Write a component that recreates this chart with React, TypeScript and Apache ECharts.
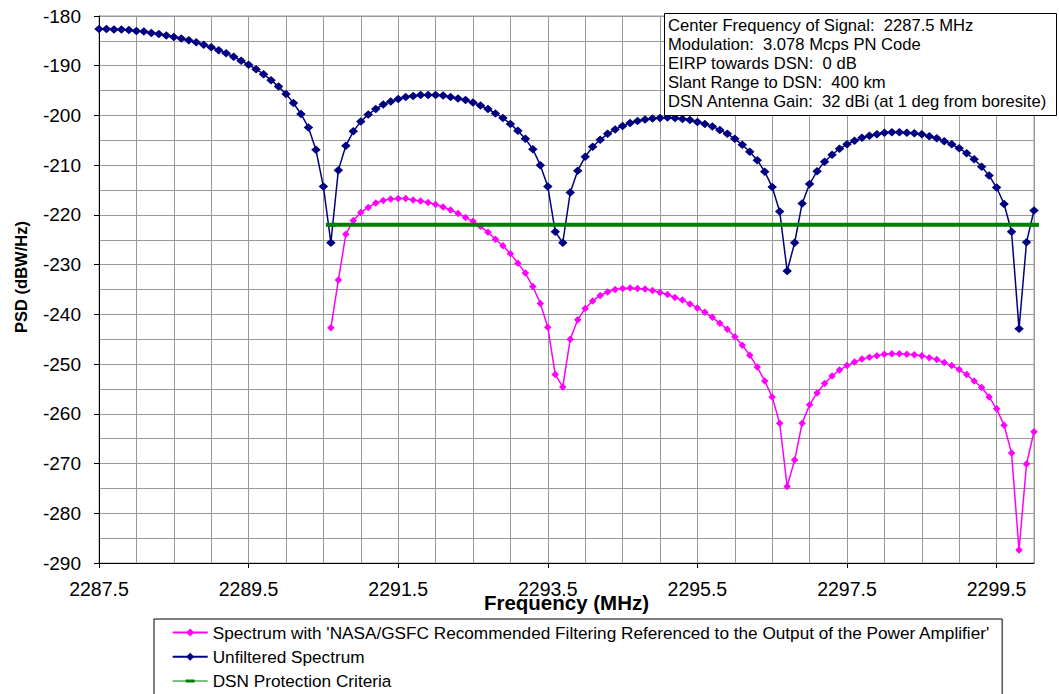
import React, { useEffect, useRef } from "react";
import * as echarts from "echarts";

// Frequency grid (MHz)
const frequencies = [
  2287.5, 2287.6, 2287.7, 2287.8, 2287.9,
  2288.0, 2288.1, 2288.2, 2288.3, 2288.4, 2288.5, 2288.6, 2288.7, 2288.8, 2288.9,
  2289.0, 2289.1, 2289.2, 2289.3, 2289.4, 2289.5, 2289.6, 2289.7, 2289.8, 2289.9,
  2290.0, 2290.1, 2290.2, 2290.3, 2290.4, 2290.5, 2290.6, 2290.7, 2290.8, 2290.9,
  2291.0, 2291.1, 2291.2, 2291.3, 2291.4, 2291.5, 2291.6, 2291.7, 2291.8, 2291.9,
  2292.0, 2292.1, 2292.2, 2292.3, 2292.4, 2292.5, 2292.6, 2292.7, 2292.8, 2292.9,
  2293.0, 2293.1, 2293.2, 2293.3, 2293.4, 2293.5, 2293.6, 2293.7, 2293.8, 2293.9,
  2294.0, 2294.1, 2294.2, 2294.3, 2294.4, 2294.5, 2294.6, 2294.7, 2294.8, 2294.9,
  2295.0, 2295.1, 2295.2, 2295.3, 2295.4, 2295.5, 2295.6, 2295.7, 2295.8, 2295.9,
  2296.0, 2296.1, 2296.2, 2296.3, 2296.4, 2296.5, 2296.6, 2296.7, 2296.8, 2296.9,
  2297.0, 2297.1, 2297.2, 2297.3, 2297.4, 2297.5, 2297.6, 2297.7, 2297.8, 2297.9,
  2298.0, 2298.1, 2298.2, 2298.3, 2298.4, 2298.5, 2298.6, 2298.7, 2298.8, 2298.9,
  2299.0, 2299.1, 2299.2, 2299.3, 2299.4, 2299.5, 2299.6, 2299.7, 2299.8, 2299.9,
  2300.0,
];

// Unfiltered spectrum PSD (dBW/Hz), one value per frequency above
const unfilteredPSD = [
  -182.6, -182.6, -182.7, -182.7, -182.8, -183.0, -183.1, -183.4, -183.6, -183.9,
  -184.2, -184.5, -184.9, -185.3, -185.8, -186.3, -186.9, -187.5, -188.2, -189.0,
  -189.8, -190.7, -191.7, -192.9, -194.2, -195.7, -197.5, -199.7, -202.4, -206.9,
  -214.3, -225.6, -211.0, -206.1, -203.2, -201.2, -199.8, -198.7, -197.8, -197.2,
  -196.7, -196.3, -196.1, -195.9, -195.9, -195.9, -196.0, -196.3, -196.6, -196.9,
  -197.4, -198.0, -198.7, -199.6, -200.5, -201.7, -203.1, -204.7, -206.8, -210.0,
  -214.3, -223.4, -225.6, -215.5, -211.1, -208.3, -206.3, -204.9, -203.7, -202.8,
  -202.1, -201.5, -201.1, -200.8, -200.6, -200.5, -200.4, -200.5, -200.7, -200.9,
  -201.3, -201.7, -202.2, -202.9, -203.7, -204.7, -205.9, -207.3, -209.0, -211.3,
  -214.4, -219.3, -231.3, -225.6, -217.7, -213.8, -211.2, -209.3, -207.9, -206.7,
  -205.8, -205.1, -204.5, -204.1, -203.8, -203.5, -203.4, -203.4, -203.5, -203.6,
  -203.8, -204.2, -204.6, -205.2, -205.8, -206.6, -207.6, -208.8, -210.3, -212.1,
  -214.5, -217.8, -223.4, -242.9, -225.5, -219.1,
];

// Filtered spectrum starts at this frequency
const filteredStartFreq = 2290.6;
const filteredPSD = [
  -242.7, -233.1, -223.9, -221.1, -219.5, -218.5, -217.6, -217.1, -216.8, -216.7,
  -216.7, -217.0, -217.2, -217.5, -217.9, -218.4, -219.0, -219.7, -220.5, -221.3,
  -222.3, -223.5, -224.9, -226.2, -227.8, -229.7, -231.7, -234.4, -237.8, -242.6,
  -252.1, -254.6, -245.0, -241.1, -238.8, -237.3, -236.2, -235.5, -235.0, -234.8,
  -234.7, -234.8, -234.9, -235.2, -235.6, -236.0, -236.6, -237.1, -237.9, -238.7,
  -239.6, -240.6, -241.8, -243.0, -244.5, -246.2, -248.2, -250.6, -253.4, -256.6,
  -261.9, -274.6, -269.3, -261.9, -258.2, -255.8, -253.9, -252.4, -251.2, -250.3,
  -249.6, -249.0, -248.6, -248.3, -248.0, -247.9, -247.9, -248.0, -248.1, -248.3,
  -248.7, -249.1, -249.7, -250.3, -251.1, -252.1, -253.4, -254.7, -256.6, -259.0,
  -262.3, -267.9, -287.4, -270.1, -263.6,
];

// DSN protection criteria
const protectionLevel = -222;
const protectionFreqs = [2290.6, 2300.0];

const seriesNames = [
  "Spectrum with 'NASA/GSFC Recommended Filtering Referenced to the Output of the Power Amplifier'",
  "Unfiltered Spectrum",
  "DSN Protection Criteria",
];

const infoLines = [
  "Center Frequency of Signal:  2287.5 MHz",
  "Modulation:  3.078 Mcps PN Code",
  "EIRP towards DSN:  0 dB",
  "Slant Range to DSN:  400 km",
  "DSN Antenna Gain:  32 dBi (at 1 deg from boresite)",
];

const yTitle = "PSD (dBW/Hz)";
const xTitle = "Frequency (MHz)";

const FONT = '"Liberation Sans", Arial, sans-serif';

export default function App() {
  const ref = useRef<HTMLDivElement>(null);

  useEffect(() => {
    if (!ref.current) return;
    const chart = echarts.init(ref.current, null, { renderer: "svg" });
    const cats = frequencies.map((f) => f.toFixed(1));
    const startIdx = cats.indexOf(filteredStartFreq.toFixed(1));
    const filteredData = filteredPSD.map((v, i) => [cats[startIdx + i], v]);
    const unfilteredData = unfilteredPSD.map((v, i) => [cats[i], v]);
    const protectionData = protectionFreqs.map((f) => [f.toFixed(1), protectionLevel]);

    const option: any = {
      animation: false,
      backgroundColor: "#ffffff",
      textStyle: { fontFamily: FONT },
      grid: {
        left: 99,
        top: 16,
        width: 935,
        height: 547,
        show: true,
        borderColor: "#999999",
        borderWidth: 1,
        backgroundColor: "transparent",
      },
      xAxis: {
        type: "category",
        data: cats,
        boundaryGap: false,
        axisLine: { show: true, lineStyle: { color: "#000", width: 1 } },
        axisTick: { show: true, interval: 19, length: 5, lineStyle: { color: "#000" } },
        axisLabel: { interval: 19, margin: 16, fontSize: 19.5, color: "#000", fontFamily: FONT },
        splitLine: { show: true, interval: 4, lineStyle: { color: "#999999", width: 1 } },
        name: xTitle,
        nameLocation: "middle",
        nameGap: 29,
        nameMoveOverlap: false,
        nameTextStyle: { fontWeight: "bold", fontSize: 20.5, color: "#000", fontFamily: FONT },
      },
      yAxis: {
        type: "value",
        min: -290,
        max: -180,
        interval: 10,
        axisLine: { show: true, lineStyle: { color: "#000", width: 1 } },
        axisTick: { show: true, length: 5, lineStyle: { color: "#000" } },
        axisLabel: { margin: 18, fontSize: 19, color: "#000", fontFamily: FONT },
        splitLine: { show: true, lineStyle: { color: "#999999", width: 1 } },
        minorTick: { show: false, splitNumber: 2 },
        minorSplitLine: { show: true, lineStyle: { color: "#999999", width: 1 } },
      },
      legend: {
        orient: "vertical",
        left: 154,
        top: 619,
        height: 160,
        padding: [5, 12, 12, 17.7],
        itemGap: 7.3,
        itemWidth: 35,
        itemHeight: 10,
        borderColor: "#000",
        borderWidth: 1,
        backgroundColor: "#fff",
        selectedMode: false,
        textStyle: { fontSize: 17.2, color: "#000", fontFamily: FONT },
        itemStyle: { borderWidth: 0 },
        data: [
          { name: seriesNames[0] },
          { name: seriesNames[1] },
          { name: seriesNames[2], icon: "path://M0,1H35V2H0Z M13,0H22V3H13Z" },
        ],
      },
      series: [
        {
          name: seriesNames[0],
          type: "line",
          data: filteredData,
          symbol: "diamond",
          symbolSize: [7.5, 7.5],
          showSymbol: true,
          showAllSymbol: true,
          lineStyle: { color: "#FF00FF", width: 1.5 },
          itemStyle: { color: "#FF00FF", borderWidth: 0 },
          z: 2,
        },
        {
          name: seriesNames[1],
          type: "line",
          data: unfilteredData,
          symbol: "diamond",
          symbolSize: [9.5, 8.5],
          showSymbol: true,
          showAllSymbol: true,
          lineStyle: { color: "#000080", width: 1.5 },
          itemStyle: { color: "#000080", borderWidth: 0 },
          z: 3,
        },
        {
          name: seriesNames[2],
          type: "line",
          data: protectionData,
          symbol: "rect",
          symbolSize: [10, 4],
          showSymbol: true,
          clip: false,
          lineStyle: { color: "#008000", width: 4 },
          itemStyle: { color: "#008000", borderWidth: 0 },
          z: 4,
        },
      ],
      graphic: [
        {
          type: "rect",
          z: 100,
          shape: { x: 664.5, y: 13.5, width: 392, height: 102 },
          style: { fill: "#fff", stroke: "#000", lineWidth: 1 },
        },
        ...infoLines.map((t, i) => ({
          type: "text",
          z: 101,
          x: 668,
          y: 25 + i * 19.2,
          style: {
            text: t,
            font: `16.6px ${FONT}`,
            fill: "#000",
            align: "left",
            verticalAlign: "middle",
          },
        })),
        {
          type: "text",
          z: 101,
          x: 21,
          y: 277,
          rotation: Math.PI / 2,
          style: {
            text: yTitle,
            font: `bold 16.5px ${FONT}`,
            fill: "#000",
            align: "center",
            verticalAlign: "middle",
          },
        },
      ],
    };

    chart.setOption(option);
    return () => chart.dispose();
  }, []);

  return (
    <div
      ref={ref}
      style={{ position: "fixed", left: 0, top: 0, width: 1059, height: 694, background: "#fff" }}
    />
  );
}
